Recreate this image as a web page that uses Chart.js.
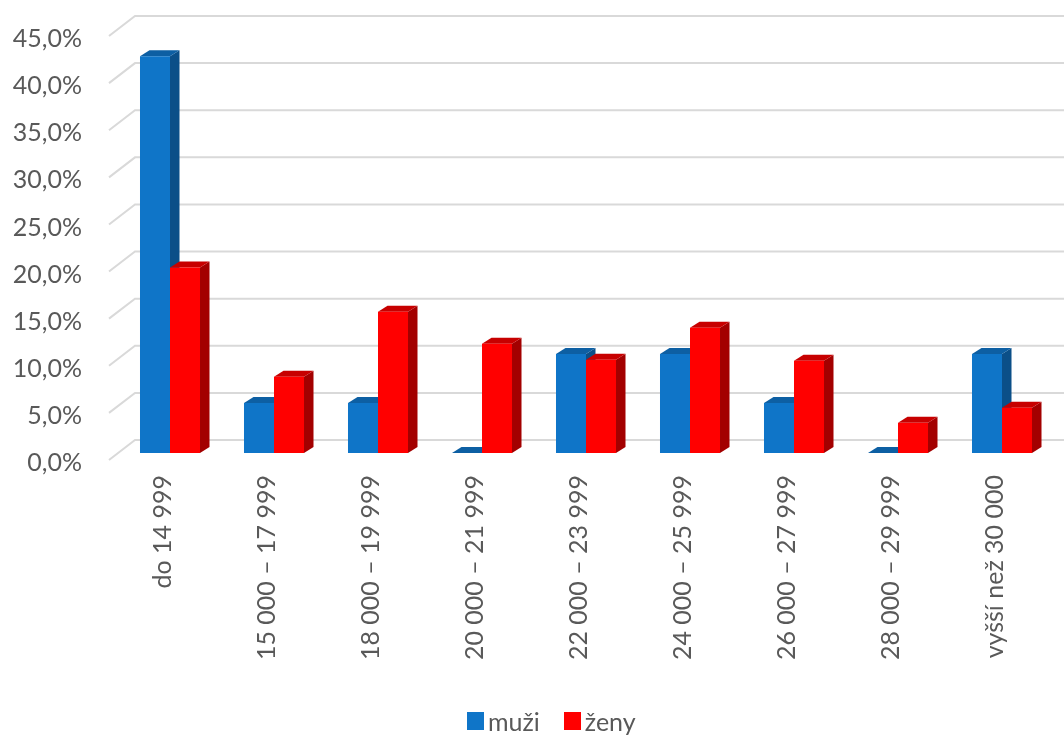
<!DOCTYPE html>
<html>
<head>
<meta charset="utf-8">
<script src="https://cdn.jsdelivr.net/npm/chart.js@4.4.1/dist/chart.umd.min.js"></script>
<style>
  body { margin: 0; background: #fff; }
  #wrap { position: relative; width: 1064px; height: 737px; }
  #legend { position: absolute; left: 467px; top: 706px; display: flex; align-items: center;
            font-family: Lato, sans-serif; font-size: 25px; color: #595959; }
  #legend .box { width: 17px; height: 18px; margin-right: 4px; }
  #legend .item { display: flex; align-items: center; margin-right: 24px; }
</style>
</head>
<body>
<div id="wrap">
  <canvas id="chart"></canvas>
  <div id="legend"></div>
</div>
<script>
// data
const categories = ["do 14 999", "15 000 – 17 999", "18 000 – 19 999", "20 000 – 21 999",
    "22 000 – 23 999", "24 000 – 25 999", "26 000 – 27 999", "28 000 – 29 999", "vyšší než 30 000"];
const muzi = [42.1, 5.3, 5.3, 0, 10.5, 10.5, 5.3, 0, 10.5];
const zeny = [19.7, 8.1, 15.0, 11.6, 9.9, 13.3, 9.8, 3.2, 4.8];
const yTicks = [0, 5, 10, 15, 20, 25, 30, 35, 40, 45];

const series = [
    { label: "muži", data: muzi, front: "#0f75c8", side: "#0b4f88", top: "#0d5fa3" },
    { label: "ženy", data: zeny, front: "#ff0000", side: "#a30000", top: "#c70000" }
];

const DX = 9.5, DY = 6;      // bar depth
const BACK = 13;             // back wall offset from bar front
const WALL_DX = 26, WALL_DY = 20;

// fake 3D: grid on back wall + side/top faces of the bars
const bar3d = {
    id: "bar3d",
    beforeDatasetsDraw(chart) {
        const ctx = chart.ctx;
        const ys = chart.scales.y;
        const left = chart.chartArea.left + 17;
        ctx.save();
        ctx.strokeStyle = "#d9d9d9";
        ctx.lineWidth = 2;
        yTicks.forEach(v => {
            const yb = ys.getPixelForValue(v) - BACK;
            ctx.beginPath();
            ctx.moveTo(left - WALL_DX, yb + WALL_DY);
            ctx.lineTo(left, yb);
            ctx.lineTo(chart.width, yb);
            ctx.stroke();
        });
        chart.data.datasets.forEach((ds, di) => {
            const meta = chart.getDatasetMeta(di);
            const s = series[di];
            meta.data.forEach(el => {
                const p = el.getProps(["x", "y", "base", "width"], true);
                const l = p.x - p.width / 2, r = p.x + p.width / 2;
                ctx.fillStyle = s.side;
                ctx.beginPath();
                ctx.moveTo(r, p.y);
                ctx.lineTo(r + DX, p.y - DY);
                ctx.lineTo(r + DX, p.base - DY);
                ctx.lineTo(r, p.base);
                ctx.closePath();
                ctx.fill();
                ctx.fillStyle = s.top;
                ctx.beginPath();
                ctx.moveTo(l, p.y);
                ctx.lineTo(l + DX, p.y - DY);
                ctx.lineTo(r + DX, p.y - DY);
                ctx.lineTo(r, p.y);
                ctx.closePath();
                ctx.fill();
            });
        });
        ctx.restore();
    }
};

Chart.defaults.font.family = "Lato, sans-serif";
Chart.defaults.color = "#595959";

new Chart(document.getElementById("chart"), {
    type: "bar",
    data: {
        labels: categories,
        datasets: series.map(s => ({
            label: s.label,
            data: s.data,
            backgroundColor: s.front,
            borderWidth: 0,
            categoryPercentage: 0.577,
            barPercentage: 1
        }))
    },
    options: {
        responsive: true,
        maintainAspectRatio: false,
        animation: false,
        layout: { padding: { top: 29, right: 10, left: 0, bottom: 0 } },
        plugins: { legend: { display: false }, tooltip: { enabled: false } },
        scales: {
            x: {
                grid: { display: false, drawTicks: false },
                border: { display: false },
                ticks: { font: { size: 25 }, minRotation: 90, maxRotation: 90, autoSkip: false,
                         padding: 22, labelOffset: -7 },
                afterFit: s => { s.height = 284; }
            },
            y: {
                min: 0, max: 45,
                grid: { display: false, drawTicks: false },
                border: { display: false },
                ticks: { stepSize: 5, font: { size: 25 }, padding: 36, labelOffset: 10,
                         callback: v => v.toFixed(1).replace(".", ",") + "%" },
                afterFit: s => { s.width = 118; s.paddingTop = 0; s.paddingBottom = 0; }
            }
        }
    },
    plugins: [bar3d]
});

// legend
const legend = document.getElementById("legend");
series.forEach(s => {
    const item = document.createElement("div");
    item.className = "item";
    item.innerHTML = `<span class="box" style="background:${s.front}"></span><span>${s.label}</span>`;
    legend.appendChild(item);
});
</script>
</body>
</html>
